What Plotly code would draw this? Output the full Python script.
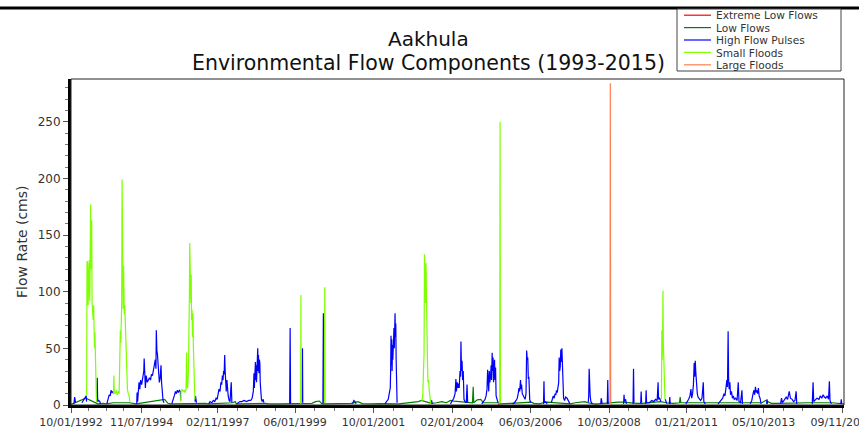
import plotly.graph_objects as go
import pandas as pd

# ---------------- data ----------------
series_names = ["Extreme Low Flows", "Low Flows", "High Flow Pulses", "Small Floods", "Large Floods"]
series_colors = ["#FF0000", "#008000", "#0000FF", "#7FFF00", "#FF7F50"]

x_tick_dates = ["1992-10-01", "1994-11-07", "1997-02-11", "1999-06-01", "2001-10-01", "2004-02-01",
                "2006-06-03", "2008-10-03", "2011-01-21", "2013-05-10", "2015-09-11"]
x_tick_labels = ["10/01/1992", "11/07/1994", "02/11/1997", "06/01/1999", "10/01/2001", "02/01/2004",
                 "06/03/2006", "10/03/2008", "01/21/2011", "05/10/2013", "09/11/2015"]
y_tick_values = [0, 50, 100, 150, 200, 250]

# Extreme low flows (events)
extreme_low_dates = [["2005-06-16", "2005-06-24", "2005-06-30"], ["2008-05-10", "2008-05-20"]]
extreme_low_flow = [[0.4, 0.3, 0.4], [0.5, 0.4]]

# Low flows (baseline)
low_dates = [[
    "1992-10-01", "1993-03-10", "1993-07-20", "1993-09-15", "1993-10-20", "1994-01-05", "1994-06-28", "1994-07-20", "1994-09-10", "1995-07-15",
    "1995-08-20", "1995-09-25", "1996-06-25", "1996-08-15", "1996-10-01", "1996-11-01", "1997-07-25", "1997-08-20", "1997-09-01", "1998-07-10",
    "1998-09-01", "1998-12-01", "1999-03-01", "1999-06-01", "1999-09-01", "1999-12-01", "2000-01-10", "2000-02-20", "2000-03-20", "2000-06-01",
    "2000-09-01", "2000-12-01", "2001-02-01", "2001-04-15", "2001-06-01", "2001-09-01", "2001-12-01", "2002-07-01", "2002-09-15", "2002-12-01",
    "2003-02-01", "2003-03-05", "2003-06-20", "2003-08-15", "2003-10-15", "2003-12-01", "2004-01-15", "2004-02-20", "2004-07-25", "2004-09-10",
    "2004-09-18", "2004-09-24", "2004-11-01", "2004-12-10", "2005-01-05", "2005-06-10", "2005-07-15", "2005-09-01", "2005-11-01", "2006-06-10",
    "2006-07-10", "2006-09-10", "2006-10-15", "2006-12-01", "2007-08-10", "2007-10-01", "2007-12-01", "2008-01-15", "2008-02-15", "2008-04-15",
    "2008-06-01", "2008-08-01", "2008-11-01", "2009-01-15", "2009-03-01", "2009-05-01", "2009-08-01", "2009-10-01", "2010-01-01", "2010-04-15",
    "2010-06-20", "2010-09-01", "2010-11-08", "2010-11-15", "2010-11-22", "2010-12-15", "2011-08-20", "2011-10-01", "2011-12-01", "2012-09-25",
    "2012-11-15", "2013-04-20", "2013-06-01", "2013-08-01", "2013-10-15", "2014-05-10", "2014-07-01", "2014-09-15", "2015-05-20", "2015-07-01",
    "2015-08-20", "2015-09-30"]]
low_flow = [[
    0.5, 6, 1, 1.5, 1, 2, 2, 1.5, 1, 5,
    1.5, 1, 1.5, 2, 1.5, 1, 2, 3, 1, 1.5,
    1, 1, 1.2, 1, 1.5, 1.5, 3, 3.5, 1, 1,
    1.2, 1, 1.5, 3, 1.2, 1, 1.2, 1, 1.5, 2,
    3, 4, 1.5, 2, 3, 2, 4, 3.5, 2, 2,
    16, 2, 4.5, 5, 2, 2, 1, 1.5, 1.5, 2.5,
    1.5, 1, 2, 2.5, 1, 2, 2.5, 3, 2, 1,
    1, 1.5, 2, 2.5, 2.5, 2, 1.5, 1.5, 2, 3,
    2, 1.5, 2, 7, 2, 2, 2, 1.5, 2, 2,
    1.5, 2, 4, 1.5, 1.5, 2, 1.5, 2, 2, 1.5,
    1, 1]]

# High flow pulses (one sub-list per event)
pulse_dates = [
    ["1992-11-01", "1992-11-10", "1992-11-20"],
    ["1993-01-28", "1993-02-20", "1993-03-15", "1993-03-19"],
    ["1993-07-08", "1993-07-13", "1993-07-18", "1993-07-28", "1993-08-10", "1993-08-18"],
    ["1993-10-25", "1993-11-08", "1993-11-20", "1993-12-01", "1993-12-10", "1993-12-20", "1994-01-02", "1994-01-06"],
    ["1994-09-15", "1994-09-19", "1994-09-25", "1994-10-02", "1994-10-10", "1994-10-18", "1994-10-28", "1994-11-08", "1994-11-20", "1994-12-01",
     "1994-12-05", "1994-12-10", "1994-12-18", "1994-12-27", "1995-01-08", "1995-01-20", "1995-02-01", "1995-02-12", "1995-02-22", "1995-03-05",
     "1995-03-15", "1995-03-25", "1995-04-05", "1995-04-12", "1995-04-16", "1995-04-22", "1995-04-28", "1995-05-05", "1995-05-12", "1995-05-19",
     "1995-05-28", "1995-06-06", "1995-06-12", "1995-06-20", "1995-06-28", "1995-07-08"],
    ["1995-10-01", "1995-10-15", "1995-10-28", "1995-11-10", "1995-11-20", "1995-12-01", "1995-12-12", "1995-12-22", "1996-01-02", "1996-01-06"],
    ["1996-06-10", "1996-06-15", "1996-06-25"],
    ["1996-11-05", "1996-11-20", "1996-12-10", "1996-12-25", "1997-01-10", "1997-01-25", "1997-02-05", "1997-02-15", "1997-02-25", "1997-03-08",
     "1997-03-18", "1997-03-26", "1997-04-03", "1997-04-10", "1997-04-16", "1997-04-22", "1997-04-28", "1997-05-03", "1997-05-08", "1997-05-15",
     "1997-05-22", "1997-05-28", "1997-06-05", "1997-06-15", "1997-06-25", "1997-07-08", "1997-07-15"],
    ["1997-09-05", "1997-09-20", "1997-10-10", "1997-11-01", "1997-11-25", "1997-12-20", "1998-01-15", "1998-02-05", "1998-02-20", "1998-03-05",
     "1998-03-12", "1998-03-16", "1998-03-20", "1998-03-24", "1998-03-28", "1998-04-01", "1998-04-05", "1998-04-09", "1998-04-13", "1998-04-17",
     "1998-04-22", "1998-04-26", "1998-04-30", "1998-05-05", "1998-05-10", "1998-05-15", "1998-05-19", "1998-05-24", "1998-06-01", "1998-06-10",
     "1998-06-20", "1998-06-28"],
    ["1999-04-04", "1999-04-09", "1999-04-14"],
    ["1999-08-18", "1999-08-21", "1999-08-24"],
    ["2000-03-30", "2000-04-04", "2000-04-09"],
    ["2001-02-15", "2001-03-01", "2001-03-15", "2001-03-25"],
    ["2002-02-01", "2002-02-20", "2002-03-10", "2002-03-25", "2002-04-01", "2002-04-05", "2002-04-09", "2002-04-13", "2002-04-17", "2002-04-21",
     "2002-04-25", "2002-04-29", "2002-05-03", "2002-05-07", "2002-05-11", "2002-05-15", "2002-05-19", "2002-05-23", "2002-05-27", "2002-05-31",
     "2002-06-04", "2002-06-08", "2002-06-14"],
    ["2003-06-18", "2003-06-24", "2003-07-01"],
    ["2004-01-15", "2004-02-01", "2004-02-20", "2004-03-05", "2004-03-14", "2004-03-20", "2004-03-28", "2004-04-05", "2004-04-12", "2004-04-19",
     "2004-04-28", "2004-05-04", "2004-05-08", "2004-05-14", "2004-05-20", "2004-05-26", "2004-06-02", "2004-06-10", "2004-06-20", "2004-07-05",
     "2004-07-13", "2004-07-20"],
    ["2004-12-20", "2005-01-10", "2005-01-25", "2005-02-05", "2005-02-15", "2005-02-22", "2005-02-28", "2005-03-06", "2005-03-12", "2005-03-18",
     "2005-03-25", "2005-04-01", "2005-04-06", "2005-04-12", "2005-04-17", "2005-04-22", "2005-04-27", "2005-05-02", "2005-05-08", "2005-05-13",
     "2005-05-19", "2005-05-25", "2005-06-05", "2005-06-15"],
    ["2005-11-20", "2005-12-10", "2005-12-28", "2006-01-10", "2006-01-20", "2006-01-28", "2006-02-05", "2006-02-14", "2006-02-20", "2006-02-26",
     "2006-03-05", "2006-03-15", "2006-03-25", "2006-04-05", "2006-04-15", "2006-04-22", "2006-04-28", "2006-05-04", "2006-05-10", "2006-05-16",
     "2006-05-25", "2006-06-05"],
    ["2006-10-22", "2006-10-27", "2006-11-01", "2006-11-15", "2006-11-30"],
    ["2007-01-15", "2007-01-25", "2007-02-05", "2007-02-15", "2007-02-25", "2007-03-05", "2007-03-12", "2007-03-20", "2007-03-28", "2007-04-05",
     "2007-04-10", "2007-04-16", "2007-04-22", "2007-04-28", "2007-05-04", "2007-05-10", "2007-05-15", "2007-05-20", "2007-05-28", "2007-06-08",
     "2007-06-20", "2007-07-05", "2007-07-20", "2007-08-05"],
    ["2008-02-20", "2008-02-25", "2008-03-01", "2008-03-06", "2008-03-12", "2008-03-20", "2008-04-05"],
    ["2008-07-05", "2008-07-10", "2008-07-15", "2008-07-20"],
    ["2008-09-14", "2008-09-19", "2008-09-24"],
    ["2009-03-10", "2009-03-15", "2009-03-20", "2009-04-01", "2009-04-10"],
    ["2009-06-21", "2009-06-26", "2009-07-01"],
    ["2009-09-12", "2009-09-17", "2009-09-22"],
    ["2009-11-05", "2009-11-10", "2009-11-15", "2009-12-15", "2010-01-10", "2010-02-01", "2010-02-20", "2010-03-10", "2010-03-20", "2010-03-25",
     "2010-04-05", "2010-04-20"],
    ["2010-06-05", "2010-06-15", "2010-06-25"],
    ["2010-07-20", "2010-07-25", "2010-07-30"],
    ["2011-01-15", "2011-02-01", "2011-02-15", "2011-03-01", "2011-03-12", "2011-03-20", "2011-03-30", "2011-04-08", "2011-04-16", "2011-04-22",
     "2011-04-28", "2011-05-03", "2011-05-08", "2011-05-14", "2011-05-20", "2011-05-28", "2011-06-10", "2011-06-25", "2011-07-10", "2011-07-24",
     "2011-07-30", "2011-08-15"],
    ["2012-01-01", "2012-01-20", "2012-02-05", "2012-02-20", "2012-03-05", "2012-03-15", "2012-03-25", "2012-04-05", "2012-04-12", "2012-04-19",
     "2012-04-24", "2012-04-30", "2012-05-08", "2012-05-15", "2012-05-25", "2012-06-05", "2012-06-15", "2012-06-25", "2012-07-10", "2012-07-25",
     "2012-08-07", "2012-08-15", "2012-09-01", "2012-09-16", "2012-09-22"],
    ["2012-12-15", "2013-01-01", "2013-01-15", "2013-01-25", "2013-02-01", "2013-02-10", "2013-02-18", "2013-02-26", "2013-03-06", "2013-03-14",
     "2013-03-22", "2013-04-01", "2013-04-12"],
    ["2013-06-11", "2013-06-16", "2013-06-21"],
    ["2013-11-10", "2013-11-20", "2013-11-30", "2013-12-20", "2014-01-10", "2014-01-25", "2014-02-12", "2014-02-25", "2014-03-15", "2014-04-01",
     "2014-04-15", "2014-04-28", "2014-05-05"],
    ["2014-10-20", "2014-10-29", "2014-11-05", "2014-11-20", "2014-12-10", "2015-01-01", "2015-01-15", "2015-02-01", "2015-02-15", "2015-03-01",
     "2015-03-15", "2015-04-01", "2015-04-15", "2015-04-24", "2015-05-01", "2015-05-15"],
    ["2015-08-25", "2015-09-01", "2015-09-05"],
]
pulse_flow = [
    [1, 7, 2],
    [2, 5, 8, 3],
    [3, 24, 3, 4, 3, 1],
    [1, 5, 9, 8, 13, 11, 12, 10],
    [1, 11, 3, 12, 20, 14, 22, 18, 24, 30,
     41, 20, 15, 26, 20, 22, 24, 22, 27, 26,
     30, 35, 40, 32, 66, 48, 45, 35, 26, 20,
     24, 35, 20, 8, 4, 2],
    [1, 4, 8, 12, 10, 13, 11, 13, 12, 4],
    [3, 8, 2],
    [1, 3, 2, 4, 3, 6, 5, 10, 14, 12,
     20, 18, 26, 22, 30, 27, 44, 30, 22, 12,
     22, 15, 8, 4, 3, 20, 2],
    [1, 2, 3, 3, 4, 3, 4, 4, 6, 12,
     28, 15, 32, 18, 38, 22, 35, 20, 38, 25,
     50, 30, 44, 28, 40, 37, 20, 13, 5, 3,
     5, 2],
    [1, 68, 1],
    [2, 50, 2],
    [1, 81, 2],
    [1, 4, 3, 1],
    [1, 3, 5, 12, 15, 30, 61, 35, 58, 30,
     53, 40, 62, 45, 68, 50, 65, 81, 60, 72,
     40, 8, 2],
    [2, 4, 1],
    [1, 3, 6, 10, 23, 12, 20, 15, 19, 15,
     30, 25, 56, 30, 39, 22, 30, 5, 3, 2,
     18, 2],
    [1, 3, 5, 8, 14, 31, 18, 12, 30, 20,
     25, 35, 22, 46, 30, 42, 20, 27, 40, 22,
     33, 8, 3, 2],
    [1, 2, 4, 6, 10, 15, 12, 22, 14, 18,
     10, 8, 6, 5, 10, 48, 40, 42, 23, 25,
     5, 2],
    [1, 21, 2, 3, 1],
    [2, 5, 8, 6, 10, 9, 13, 11, 14, 20,
     42, 30, 34, 49, 38, 50, 30, 14, 6, 4,
     7, 6, 3, 1],
    [2, 8, 32, 12, 8, 3, 1],
    [1, 6, 4, 1],
    [1, 22, 1],
    [1, 9, 3, 5, 1],
    [1, 32, 2],
    [1, 12, 2],
    [1, 13, 2, 2, 4, 3, 5, 4, 20, 5,
     6, 3],
    [5, 3, 1],
    [1, 7, 1],
    [1, 3, 5, 8, 14, 6, 10, 18, 37, 25,
     39, 30, 22, 15, 10, 7, 5, 4, 6, 20,
     3, 1],
    [1, 3, 5, 6, 10, 8, 14, 22, 16, 65,
     24, 14, 20, 9, 12, 6, 8, 5, 6, 4,
     20, 3, 2, 13, 1],
    [1, 4, 10, 13, 9, 16, 11, 13, 10, 15,
     8, 6, 1],
    [1, 5, 1],
    [1, 6, 2, 4, 7, 5, 12, 6, 5, 3,
     4, 12, 1],
    [1, 20, 3, 4, 6, 5, 8, 6, 9, 7,
     6, 8, 5, 21, 4, 1],
    [1, 5, 1],
]

# Small floods (one sub-list per event)
small_flood_dates = [
    ["1993-03-20", "1993-03-24", "1993-03-28", "1993-04-01", "1993-04-05", "1993-04-09", "1993-04-13", "1993-04-18", "1993-04-23", "1993-04-28",
     "1993-05-02", "1993-05-06", "1993-05-10", "1993-05-14", "1993-05-18", "1993-05-22", "1993-05-26", "1993-05-30", "1993-06-04", "1993-06-09",
     "1993-06-13", "1993-06-18", "1993-06-23", "1993-06-28", "1993-07-03", "1993-07-07"],
    ["1994-01-06", "1994-01-10", "1994-01-14", "1994-01-25", "1994-02-05", "1994-02-15", "1994-02-25", "1994-03-08", "1994-03-13", "1994-03-17",
     "1994-03-21", "1994-03-26", "1994-03-31", "1994-04-05", "1994-04-09", "1994-04-13", "1994-04-17", "1994-04-21", "1994-04-25", "1994-04-29",
     "1994-05-03", "1994-05-08", "1994-05-13", "1994-05-18", "1994-05-24", "1994-05-30", "1994-06-06", "1994-06-15", "1994-06-25", "1994-07-02"],
    ["1996-01-05", "1996-01-10", "1996-01-20", "1996-02-01", "1996-02-12", "1996-02-22", "1996-03-04", "1996-03-10", "1996-03-15", "1996-03-22",
     "1996-03-30", "1996-04-06", "1996-04-10", "1996-04-13", "1996-04-17", "1996-04-21", "1996-04-25", "1996-04-29", "1996-05-03", "1996-05-08",
     "1996-05-13", "1996-05-18", "1996-05-23", "1996-05-28", "1996-06-02", "1996-06-08"],
    ["1999-08-01", "1999-08-04", "1999-08-07"],
    ["2000-04-15", "2000-04-19", "2000-04-23"],
    ["2003-03-10", "2003-03-20", "2003-03-28", "2003-04-03", "2003-04-08", "2003-04-12", "2003-04-16", "2003-04-20", "2003-04-24", "2003-04-28",
     "2003-05-02", "2003-05-06", "2003-05-10", "2003-05-15", "2003-05-22", "2003-05-30", "2003-06-08", "2003-06-15"],
    ["2005-07-03", "2005-07-07", "2005-07-11"],
    ["2010-04-25", "2010-04-30", "2010-05-04", "2010-05-08", "2010-05-12", "2010-05-16", "2010-05-20", "2010-05-24", "2010-05-28", "2010-06-03"],
]
small_flood_flow = [
    [8, 127, 110, 125, 88, 120, 90, 128, 92, 150,
     177, 120, 140, 163, 90, 85, 90, 75, 88, 65,
     50, 64, 30, 12, 8, 3],
    [10, 26, 12, 10, 13, 9, 12, 10, 46, 30,
     66, 55, 70, 90, 199, 95, 103, 85, 123, 90,
     80, 88, 75, 60, 45, 26, 14, 10, 8, 3],
    [3, 12, 14, 12, 13, 11, 14, 46, 15, 16,
     30, 60, 100, 143, 110, 125, 90, 115, 75, 84,
     60, 81, 50, 30, 12, 5],
    [1, 97, 2],
    [2, 104, 2],
    [3, 8, 30, 45, 133, 110, 130, 90, 125, 78,
     95, 60, 40, 20, 22, 12, 6, 1],
    [1, 250, 2],
    [5, 66, 40, 60, 101, 55, 37, 30, 20, 5],
]

# Large floods
large_flood_dates = [["2008-10-13", "2008-10-17", "2008-10-21"]]
large_flood_flow = [[1, 284, 1]]

# ---------------- build ----------------
def join_events(date_groups, value_groups):
    xs, ys = [], []
    for d, v in zip(date_groups, value_groups):
        assert len(d) == len(v), (d[0], len(d), len(v))
        xs += list(d) + [None]
        ys += list(v) + [None]
    return xs, ys

all_series = [
    (extreme_low_dates, extreme_low_flow),
    (low_dates, low_flow),
    (pulse_dates, pulse_flow),
    (small_flood_dates, small_flood_flow),
    (large_flood_dates, large_flood_flow),
]

FONT = "DejaVu Sans"
W, H = 859, 428
L, R, T, B = 71, 15, 79, 23
PW, PH = W - L - R, H - T - B


def fx(px):
    return (px - L) / PW


def fy(py):
    return (H - B - py) / PH


fig = go.Figure()
for (dg, vg), name, color in zip(all_series, series_names, series_colors):
    xs, ys = join_events(dg, vg)
    fig.add_trace(go.Scatter(x=xs, y=ys, mode="lines", name=name,
                             line=dict(color=color, width=1.2), connectgaps=False,
                             showlegend=False))

# minor x ticks: quarter points between labelled dates
tick_ts = pd.to_datetime(x_tick_dates)
minor_vals = []
for a, b in zip(tick_ts[:-1], tick_ts[1:]):
    for k in (1, 2, 3):
        minor_vals.append((a + (b - a) * k / 4).strftime("%Y-%m-%d"))

fig.update_xaxes(
    type="date", range=["1992-10-01", "2015-09-30"], automargin=False,
    tickmode="array", tickvals=x_tick_dates, ticktext=x_tick_labels,
    ticks="outside", ticklen=5, tickwidth=1, tickcolor="#555",
    tickfont=dict(family=FONT, size=11, color="#333"),
    ticklabeloverflow="allow",
    showline=True, linewidth=3, linecolor="black", mirror=False,
    showgrid=False, zeroline=False,
    minor=dict(tickmode="array", tickvals=minor_vals, ticks="outside", ticklen=3,
               tickwidth=1, tickcolor="#777", showgrid=False),
)
fig.update_yaxes(
    range=[0, 287.7], tickmode="array", tickvals=y_tick_values, automargin=False,
    ticks="outside", ticklen=5, tickwidth=1, tickcolor="#555",
    tickfont=dict(family=FONT, size=12, color="#333"),
    showline=True, linewidth=3, linecolor="black", mirror=False,
    showgrid=False, zeroline=False,
    minor=dict(dtick=10, tick0=0, ticks="outside", ticklen=3, tickwidth=1,
               tickcolor="#777", showgrid=False),
)

shapes = [
    # thin frame on top/right
    dict(type="rect", xref="paper", yref="paper", x0=0, x1=1, y0=0, y1=1,
         line=dict(color="#222", width=1), layer="above"),
    # heavy rule across the top of the image
    dict(type="line", xref="paper", yref="paper", x0=fx(0), x1=fx(W), y0=fy(8), y1=fy(8),
         line=dict(color="black", width=3)),
    # legend box
    dict(type="rect", xref="paper", yref="paper", x0=fx(677), x1=fx(841), y0=fy(71), y1=fy(9),
         line=dict(color="#444", width=1), fillcolor="white", layer="above"),
]
annotations = [
    dict(text="Aakhula", xref="paper", yref="paper", x=fx(428), y=fy(39),
         xanchor="center", yanchor="middle", showarrow=False,
         font=dict(family=FONT, size=20, color="#111")),
    dict(text="Environmental Flow Components (1993-2015)", xref="paper", yref="paper",
         x=fx(428), y=fy(63.5), xanchor="center", yanchor="middle", showarrow=False,
         font=dict(family=FONT, size=20.5, color="#111")),
    dict(text="Flow Rate (cms)", xref="paper", yref="paper", x=fx(22), y=fy(242),
         xanchor="center", yanchor="middle", textangle=-90, showarrow=False,
         font=dict(family=FONT, size=14, color="#333")),
]
row_y = [15.2, 27.6, 40.0, 52.4, 64.8]
for name, color, ry in zip(series_names, series_colors, row_y):
    shapes.append(dict(type="line", xref="paper", yref="paper", x0=fx(684), x1=fx(711),
                       y0=fy(ry), y1=fy(ry), line=dict(color=color, width=1.2), layer="above"))
    annotations.append(dict(text=name, xref="paper", yref="paper", x=fx(715), y=fy(ry + 0.3),
                            xanchor="left", yanchor="middle", showarrow=False, borderpad=0,
                            font=dict(family=FONT, size=10.6, color="#333")))

fig.update_layout(
    width=W, height=H, margin=dict(l=L, r=R, t=T, b=B, pad=0, autoexpand=False),
    paper_bgcolor="white", plot_bgcolor="white",
    showlegend=False, shapes=shapes, annotations=annotations,
)

fig.write_html("out.html", config={"displayModeBar": False},
               post_script="document.body.style.margin='0px';")
